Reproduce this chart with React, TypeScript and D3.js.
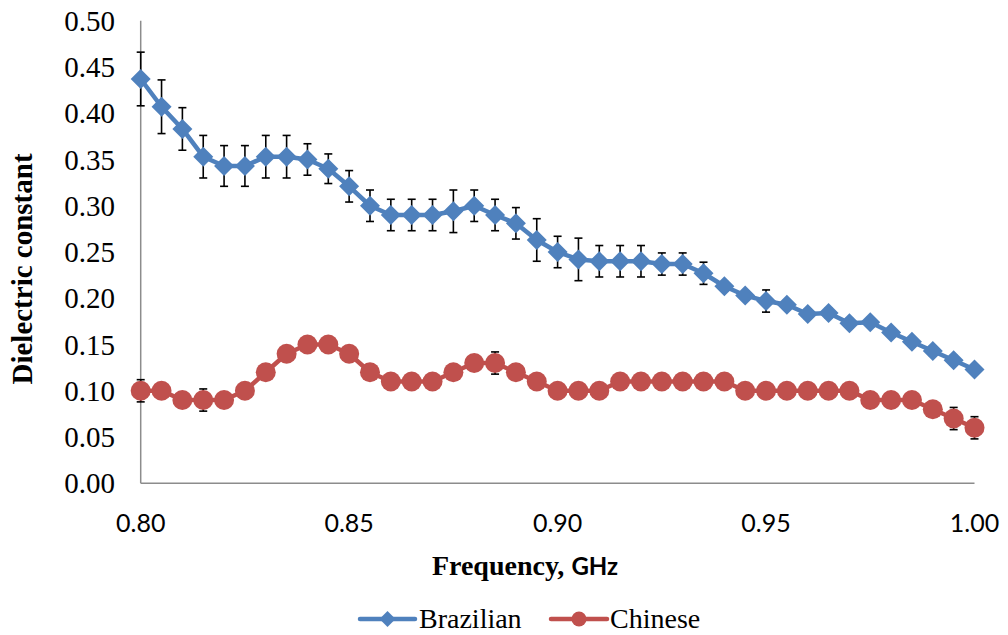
import React, { useEffect, useRef } from "react";
import * as d3 from "d3";

const frequencies: number[] = d3.range(41).map((i) => +(0.8 + i * 0.005).toFixed(3));

const brazilian: number[] = [
  0.437, 0.407, 0.383, 0.353, 0.343, 0.343, 0.353, 0.353, 0.350, 0.340,
  0.321, 0.300, 0.290, 0.290, 0.290, 0.294, 0.300, 0.290, 0.281, 0.263,
  0.250, 0.242, 0.240, 0.240, 0.240, 0.237, 0.237, 0.227, 0.213, 0.203,
  0.197, 0.193, 0.183, 0.184, 0.173, 0.174, 0.163, 0.153, 0.143, 0.133,
  0.123,
];
const brazilianErr: number[] = [
  0.029, 0.029, 0.023, 0.023, 0.022, 0.022, 0.023, 0.023, 0.017, 0.016,
  0.017, 0.017, 0.017, 0.017, 0.017, 0.023, 0.017, 0.017, 0.017, 0.023,
  0.017, 0.023, 0.017, 0.017, 0.017, 0.012, 0.012, 0.012, 0.005, 0.005,
  0.012, 0.005, 0.005, 0.005, 0.005, 0.005, 0.005, 0.005, 0.005, 0.005,
  0.005,
];
const chinese: number[] = [
  0.10, 0.10, 0.09, 0.09, 0.09, 0.10, 0.12, 0.14, 0.15, 0.15,
  0.14, 0.12, 0.11, 0.11, 0.11, 0.12, 0.13, 0.13, 0.12, 0.11,
  0.10, 0.10, 0.10, 0.11, 0.11, 0.11, 0.11, 0.11, 0.11, 0.10,
  0.10, 0.10, 0.10, 0.10, 0.10, 0.09, 0.09, 0.09, 0.08, 0.07,
  0.06,
];
const chineseErr: number[] = [
  0.012, 0.004, 0.004, 0.012, 0.004, 0.004, 0.004, 0.004, 0.004, 0.004,
  0.004, 0.004, 0.004, 0.004, 0.004, 0.004, 0.004, 0.012, 0.004, 0.004,
  0.004, 0.004, 0.004, 0.004, 0.004, 0.004, 0.004, 0.004, 0.004, 0.004,
  0.004, 0.004, 0.004, 0.004, 0.004, 0.004, 0.004, 0.004, 0.004, 0.012,
  0.012,
];
const yTicks: number[] = [0, 0.05, 0.1, 0.15, 0.2, 0.25, 0.3, 0.35, 0.4, 0.45, 0.5];
const xTicks: number[] = [0.8, 0.85, 0.9, 0.95, 1.0];
const seriesNames: string[] = ["Brazilian", "Chinese"];
const colors: string[] = ["#4F81BD", "#C0504D"];

const SERIF = "'Liberation Serif', 'Times New Roman', serif";
const SANS = "Lato, 'Liberation Sans', sans-serif";

const diamondPath = (r: number) => `M0,${-r}L${r},0L0,${r}L${-r},0Z`;

export default function App() {
  const ref = useRef<SVGSVGElement>(null);

  useEffect(() => {
    const svg = d3.select(ref.current);
    svg.selectAll("*").remove();

    const x = d3.scaleLinear().domain([0.8, 1.0]).range([140.7, 974.5]);
    const y = d3.scaleLinear().domain([0, 0.5]).range([483.3, 20.7]);

    // axes lines
    svg.append("line").attr("x1", x(0.8)).attr("x2", x(0.8)).attr("y1", y(0.5)).attr("y2", y(0))
      .attr("stroke", "#8c8c8c").attr("stroke-width", 1.5);
    svg.append("line").attr("x1", x(0.8)).attr("x2", x(1.0)).attr("y1", y(0)).attr("y2", y(0))
      .attr("stroke", "#8c8c8c").attr("stroke-width", 1.5);

    // y tick labels
    svg.append("g").selectAll("text").data(yTicks).join("text")
      .attr("x", 115).attr("y", (d) => y(d)).attr("dy", "0.35em")
      .attr("text-anchor", "end")
      .style("font-family", SERIF)
      .attr("font-size", 29).attr("fill", "#000")
      .text((d) => d3.format(".2f")(d));

    // x tick labels
    svg.append("g").selectAll("text").data(xTicks).join("text")
      .attr("x", (d) => x(d)).attr("y", 532)
      .attr("text-anchor", "middle")
      .style("font-family", SANS)
      .attr("font-size", 25).attr("fill", "#000")
      .text((d) => d3.format(".2f")(d));

    // axis titles
    const xt = svg.append("text").attr("x", 525).attr("y", 575).attr("text-anchor", "middle")
      .attr("font-weight", "bold").attr("font-size", 28).attr("fill", "#000")
      .style("font-family", SERIF);
    xt.append("tspan").text("Frequency, ");
    xt.append("tspan").style("font-family", SANS).attr("font-size", 24).text("GHz");

    svg.append("text")
      .attr("transform", `translate(32,${269}) rotate(-90)`)
      .attr("text-anchor", "middle")
      .attr("font-weight", "bold").attr("font-size", 29).attr("fill", "#000")
      .style("font-family", SERIF)
      .text("Dielectric constant");

    const series = [
      { values: brazilian, errs: brazilianErr, color: colors[0], shape: "diamond" },
      { values: chinese, errs: chineseErr, color: colors[1], shape: "circle" },
    ];

    const line = d3.line<number>().x((_, i) => x(frequencies[i])).y((d) => y(d));

    series.forEach((s) => {
      const eg = svg.append("g").attr("stroke", "#000").attr("stroke-width", 1.6);
      s.values.forEach((v, i) => {
        const cx = x(frequencies[i]);
        const y1 = y(v + s.errs[i]);
        const y2 = y(v - s.errs[i]);
        eg.append("line").attr("x1", cx).attr("x2", cx).attr("y1", y1).attr("y2", y2);
        eg.append("line").attr("x1", cx - 4).attr("x2", cx + 4).attr("y1", y1).attr("y2", y1);
        eg.append("line").attr("x1", cx - 4).attr("x2", cx + 4).attr("y1", y2).attr("y2", y2);
      });
    });

    series.forEach((s) => {
      svg.append("path").datum(s.values).attr("d", line)
        .attr("fill", "none").attr("stroke", s.color).attr("stroke-width", 4.5)
        .attr("stroke-linejoin", "round");
      const mg = svg.append("g").attr("fill", s.color);
      s.values.forEach((v, i) => {
        const cx = x(frequencies[i]);
        const cy = y(v);
        if (s.shape === "diamond") {
          mg.append("path").attr("d", diamondPath(10)).attr("transform", `translate(${cx},${cy})`);
        } else {
          mg.append("circle").attr("cx", cx).attr("cy", cy).attr("r", 10);
        }
      });
    });

    // legend
    const legendItems = [
      { name: seriesNames[0], color: colors[0], shape: "diamond", x0: 360, x1: 415, tx: 419 },
      { name: seriesNames[1], color: colors[1], shape: "circle", x0: 551, x1: 607, tx: 610 },
    ];
    const lg = svg.append("g");
    legendItems.forEach((it) => {
      lg.append("line").attr("x1", it.x0).attr("x2", it.x1).attr("y1", 619).attr("y2", 619)
        .attr("stroke", it.color).attr("stroke-width", 4.5).attr("stroke-linecap", "round");
      const mx = (it.x0 + it.x1) / 2;
      if (it.shape === "diamond") {
        lg.append("path").attr("d", diamondPath(8))
          .attr("transform", `translate(${mx},619)`).attr("fill", it.color);
      } else {
        lg.append("circle").attr("cx", mx).attr("cy", 619).attr("r", 7.5).attr("fill", it.color);
      }
      lg.append("text").attr("x", it.tx).attr("y", 628)
        .style("font-family", SERIF)
        .attr("font-size", 28).attr("fill", "#000").text(it.name);
    });
  }, []);

  return (
    <svg
      ref={ref}
      width={1008}
      height={635}
      style={{ position: "absolute", left: 0, top: 0, background: "#fff" }}
    />
  );
}
